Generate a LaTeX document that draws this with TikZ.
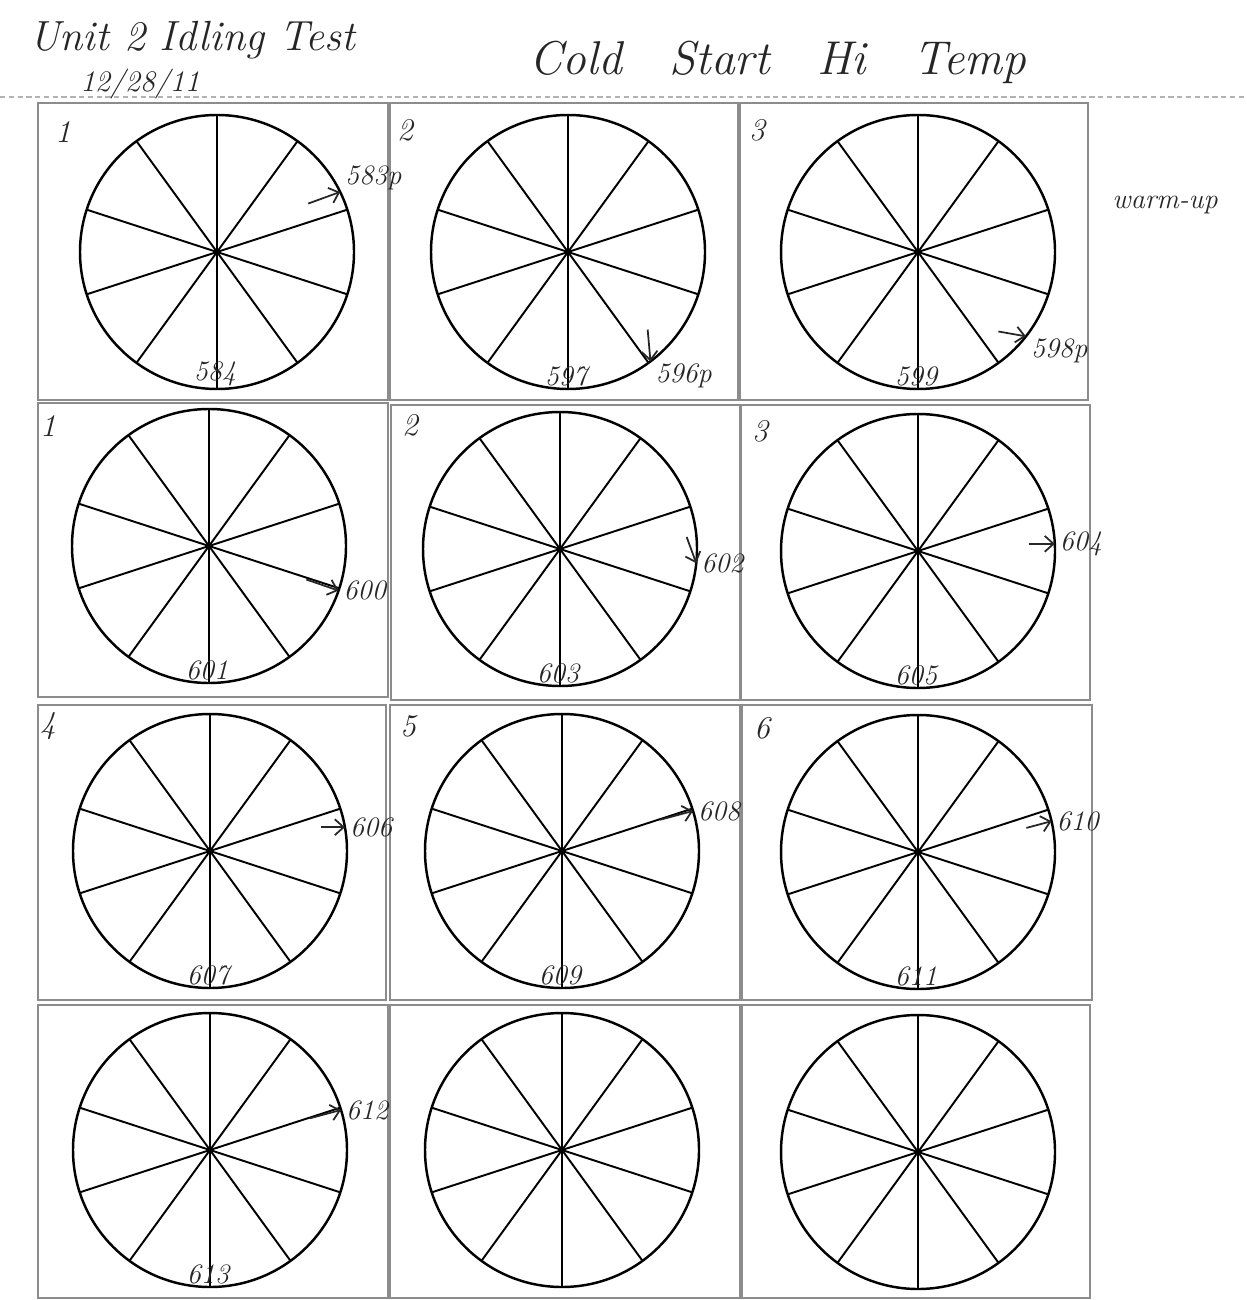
\documentclass[tikz,border=0pt]{standalone}
\usetikzlibrary{calc,arrows.meta}
\begin{document}
\begin{tikzpicture}[x=0.02cm,y=-0.02cm,
    cellbox/.style={draw=black!45, line width=1.1pt},
    dial/.style={draw=black, line width=1.4pt},
    spoke/.style={draw=black, line width=1.1pt},
    pen/.style={draw=black!85, line width=1pt, -{Straight Barb[length=5pt,width=9pt]}},
    rule/.style={draw=black!30, line width=0.6pt, dash pattern=on 3pt off 2pt},
    title/.style={font=\fontsize{24}{24}\selectfont\itshape, text=black!85, inner sep=0pt},
    hand/.style={font=\fontsize{16}{16}\selectfont\itshape, text=black!85, inner sep=1pt},
    cellno/.style={font=\fontsize{18}{18}\selectfont\itshape, text=black!85, inner sep=0pt}]
  \fill[white] (0,0) rectangle (1246,1300);
  \useasboundingbox (0,0) rectangle (1246,1300);

  % Header
  \draw[rule] (0,97) -- (1246,97);
  \node[title] (unit) at (192,40) {Unit 2 Idling Test};
  \node[title, font=\fontsize{17}{17}\selectfont\itshape] (date) at (140,84) {12/28/11};
  \node[title, font=\fontsize{27}{27}\selectfont\itshape] (cond) at (778,62) {Cold\quad Start\quad Hi\quad Temp};
  \node[hand] (warm) at (1165,205) {warm-up};

  % Boxes
  \foreach \xa/\ya/\xb/\yb in {38/103/388/400, 390/103/738/400, 740/103/1088/400,
      38/403/388/697, 391/405/740/700, 741/405/1090/700,
      38/705/386/1000, 390/705/740/1000, 742/705/1092/1000,
      38/1005/388/1298, 390/1005/740/1298, 742/1005/1090/1298}
    \draw[cellbox] (\xa,\ya) rectangle (\xb,\yb);

  % Dials with ten sectors
  \foreach \n/\cx/\cy in {11/217/252, 12/568/252, 13/918/252,
      21/209/546, 22/560/549, 23/918/551,
      31/210/851, 32/562/851, 33/918/852,
      41/210/1150, 42/562/1150, 43/918/1152}
  {
    \coordinate (c\n) at (\cx,\cy);
    \foreach \a in {90,54,18,-18,-54}
      \draw[spoke] ($(c\n)+(\a:137)$) -- ($(c\n)+(\a+180:137)$);
    \draw[dial] (c\n) circle[radius=137];
  }

  % Cell numbers
  \node[cellno] (n11) at (63,132) {1};
  \node[cellno] (n12) at (405,130) {2};
  \node[cellno] (n13) at (757,130) {3};
  \node[cellno] (n21) at (48,426) {1};
  \node[cellno] (n22) at (410,425) {2};
  \node[cellno] (n23) at (760,431) {3};
  \node[cellno] (n31) at (48,726) {4};
  \node[cellno] (n32) at (408,726) {5};
  \node[cellno] (n33) at (762,728) {6};

  % Readings at the bottom of each dial
  \foreach \n/\lbl in {11/584, 12/597, 13/599, 21/601, 22/603, 23/605,
      31/607, 32/609, 33/611, 41/613}
    \node[hand, anchor=south] (b\n) at ($(c\n)+(-2,136)$) {\lbl};

  % Marked positions
  \foreach \n/\ang/\dir/\len/\anc/\lbl in {11/-26/160/34/south west/583p,
      12/53/-95/32/north west/596p, 13/38/190/28/north west/598p,
      21/19/199/34/west/600, 22/6/-110/28/west/602, 23/-3/180/26/west/604,
      31/-10/180/24/west/606, 32/-17/165/34/west/608, 33/-13/165/26/west/610,
      41/-17/165/32/west/612}
  {
    \coordinate (t\n) at ($(c\n)+(\ang:137)$);
    \coordinate (s\n) at ($(t\n)+(\dir:\len)$);
    \draw[pen] (s\n) -- (t\n);
    \node[hand, anchor=\anc] (m\n) at ($(t\n)+(3,0)$) {\lbl};
  }
\end{tikzpicture}
\end{document}
